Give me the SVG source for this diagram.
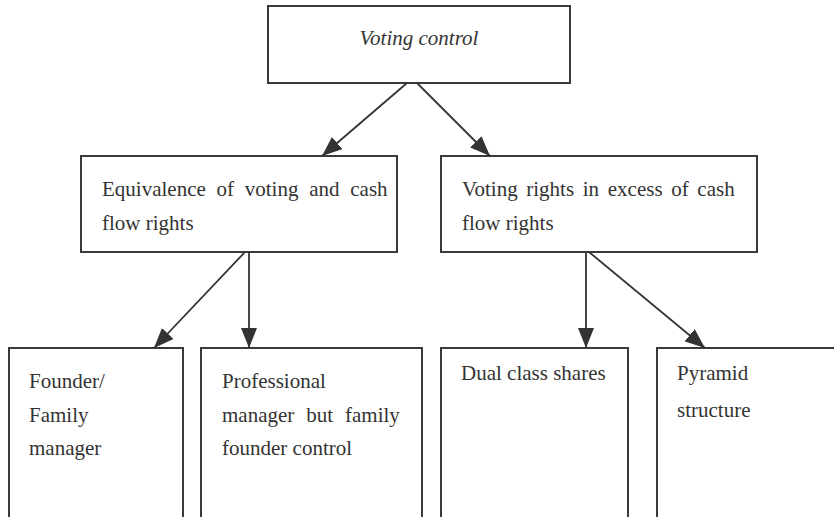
<svg xmlns="http://www.w3.org/2000/svg" width="834" height="517" viewBox="0 0 834 517">
<defs>
<style>
.box{fill:#fff;stroke:#3a3a3a;stroke-width:2}
.t{font-family:"Liberation Serif","Times New Roman",serif;font-size:21px;fill:#333}
.c{stroke:#333;stroke-width:1.8;fill:none}
</style>
<marker id="ah" viewBox="0 0 20 16" refX="20" refY="8" markerWidth="20" markerHeight="16" markerUnits="userSpaceOnUse" orient="auto">
<path d="M0,0 L20,8 L0,16 Z" fill="#333"/>
</marker>
</defs>
<rect width="834" height="517" fill="#fff"/>
<g id="n-voting-control">
<rect class="box" x="268" y="6" width="302" height="77"/>
<text class="t" x="419" y="45" text-anchor="middle" font-style="italic">Voting control</text>
</g>
<g id="n-equivalence">
<rect class="box" x="81" y="156" width="316" height="96"/>
<text class="t" x="102" y="196" word-spacing="5.5">Equivalence of voting and cash</text>
<text class="t" x="102" y="230">flow rights</text>
</g>
<g id="n-excess">
<rect class="box" x="441" y="156" width="316" height="96"/>
<text class="t" x="462" y="196" word-spacing="3.4">Voting rights in excess of cash</text>
<text class="t" x="462" y="230">flow rights</text>
</g>
<g id="n-founder">
<path class="box" d="M9,520 V348 H183 V520"/>
<text class="t" x="29" y="388">Founder/</text>
<text class="t" x="29" y="422">Family</text>
<text class="t" x="29" y="455">manager</text>
</g>
<g id="n-professional">
<path class="box" d="M201,520 V348 H422 V520"/>
<text class="t" x="222" y="388">Professional</text>
<text class="t" x="222" y="422" word-spacing="6.7">manager but family</text>
<text class="t" x="222" y="455">founder control</text>
</g>
<g id="n-dual">
<path class="box" d="M441,520 V348 H628 V520"/>
<text class="t" x="461" y="380">Dual class shares</text>
</g>
<g id="n-pyramid">
<path class="box" d="M657,520 V348 H840"/>
<text class="t" x="677" y="380">Pyramid</text>
<text class="t" x="677" y="417">structure</text>
</g>
<g id="connectors">
<line class="c" x1="407" y1="83" x2="322" y2="156" marker-end="url(#ah)"/>
<line class="c" x1="417" y1="83" x2="490" y2="156" marker-end="url(#ah)"/>
<line class="c" x1="245" y1="252" x2="154" y2="348" marker-end="url(#ah)"/>
<line class="c" x1="249" y1="252" x2="249" y2="348" marker-end="url(#ah)"/>
<line class="c" x1="586" y1="252" x2="586" y2="348" marker-end="url(#ah)"/>
<line class="c" x1="589" y1="252" x2="705" y2="348" marker-end="url(#ah)"/>
</g>
</svg>
